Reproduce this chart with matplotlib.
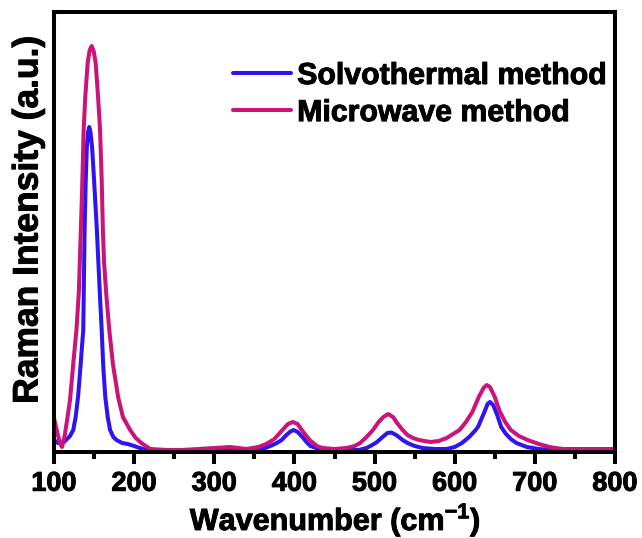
import matplotlib
matplotlib.use("Agg")
import matplotlib.pyplot as plt
from matplotlib.ticker import MultipleLocator
import matplotlib.patheffects as pe

plt.rcParams['font.family'] = ['Liberation Sans', 'DejaVu Sans']
plt.rcParams['font.weight'] = 'bold'
plt.rcParams['mathtext.fontset'] = 'custom'
plt.rcParams['mathtext.rm'] = 'Liberation Sans:bold'
plt.rcParams['mathtext.bf'] = 'Liberation Sans:bold'

# Solvothermal method (blue)
solvo_x = [100, 105, 110, 115, 120, 124, 127, 130, 133, 136.5, 138.2, 139.6, 141, 142.5, 144,
           145.5, 147.5, 150, 153.5, 156.5, 159.5, 161.5, 164, 167, 170, 174, 178, 185, 192,
           200, 207, 215, 240, 280, 320, 350, 360, 370, 378, 384, 390, 395, 399, 404, 410,
           415, 420, 430, 450, 480, 490, 497, 503, 510, 516, 521, 527, 535, 541, 550, 560,
           575, 590, 600, 609, 618, 625, 629, 636, 641, 644, 648, 653, 658, 664, 670, 677,
           690, 705, 720, 760, 800]
solvo_y = [12, 9, 8, 12, 16, 22, 35, 55, 85, 122, 222, 272, 305, 320, 325,
           320, 305, 272, 222, 170, 122, 85, 55, 35, 22, 15, 12, 9, 8,
           6, 4, 2, 2, 2, 2.5, 2.5, 3, 6, 9, 12, 17, 20.5, 22, 20, 15,
           10, 6, 3, 2, 2, 4, 7, 10, 15, 19, 19.5, 17, 12, 9, 6, 4,
           3, 3, 5, 9, 15, 21, 25, 38, 48, 50, 47, 37, 25, 18, 13, 9,
           5, 3, 2, 2, 2]

# Microwave method (magenta)
micro_x = [100, 104, 107, 110, 113, 116, 120, 124, 128, 131, 133, 135, 137, 139, 142, 144.5,
           147, 149.5, 152, 155, 157.5, 159.5, 161, 162.5, 165.5, 169, 173.5, 180, 186, 195,
           202, 209, 220, 240, 260, 280, 300, 320, 340, 355, 365, 375, 385, 392, 398, 404,
           411, 419, 428, 435, 450, 465, 475, 482, 490, 498, 505, 511, 517, 523, 529, 535,
           541, 548, 555, 562, 570, 580, 590, 598, 606, 614, 622, 630, 636, 640, 644, 650,
           656, 663, 670, 680, 691, 705, 718, 735, 760, 780, 800]
micro_y = [34, 20, 10, 5, 15, 30, 52, 88, 122, 160, 210, 260, 322, 355, 389, 402,
           406, 401, 389, 355, 322, 272, 222, 189, 155, 122, 88, 55, 35, 22,
           14, 9, 3, 2, 2, 3, 4, 5, 3, 5, 8, 13, 22, 28, 30, 28,
           20, 12, 6, 4, 3, 4, 6, 9, 15, 22, 30, 35, 38, 35, 28, 22,
           17, 14, 12, 11, 10, 11, 14, 18, 22, 30, 40, 55, 64, 67, 65, 55,
           41, 30, 22, 16, 12, 8, 5, 3, 3, 3, 3]

xticks = [100, 200, 300, 400, 500, 600, 700, 800]

W, H = 642, 538
fig = plt.figure(figsize=(W / 100, H / 100), dpi=100)
ax = fig.add_axes([54 / W, 1 - 452 / H, (615 - 54) / W, (452 - 12) / H])

thick = [pe.withStroke(linewidth=0.7, foreground='black')]

ax.plot(solvo_x, solvo_y, color='#2E14F0', lw=2.9, label='Solvothermal method',
        solid_joinstyle='round', solid_capstyle='round')
ax.plot(micro_x, micro_y, color='#CC137A', lw=2.9, label='Microwave method',
        solid_joinstyle='round', solid_capstyle='round')

ax.set_xlim(100, 800)
ax.set_ylim(0, 440)
ax.set_xticks(xticks)
ax.set_xticklabels([str(t) for t in xticks])
ax.xaxis.set_minor_locator(MultipleLocator(50))
ax.set_yticks([])

for s in ax.spines.values():
    s.set_linewidth(2.9)

ax.tick_params(axis='x', which='major', direction='out', length=8.5, width=2.9,
               labelsize=19.5, pad=5)
ax.tick_params(axis='x', which='minor', direction='out', length=5, width=2.9)
for lbl in ax.get_xticklabels():
    lbl.set_fontweight('bold')
    lbl.set_path_effects(thick)

xl = ax.set_xlabel('Wavenumber (cm$^{\\mathbf{-1}}$)', fontsize=22, fontweight='bold')
xl.set_path_effects(thick)
ax.xaxis.set_label_coords((335 - 54) / (615 - 54), -(520 - 452) / (452 - 12))
xl.set_va('center')

yl = ax.set_ylabel('Raman Intensity (a.u.)', fontsize=25.5, fontweight='bold')
yl.set_path_effects(thick)
ax.yaxis.set_label_coords(-(54 - 28) / (615 - 54), (452 - 220) / (452 - 12))
yl.set_va('center')

leg = fig.legend(loc='upper left', bbox_to_anchor=(233 / W, 1 - 62 / H), frameon=False,
                 prop={'size': 21.8, 'weight': 'bold'}, handlelength=1.9,
                 handletextpad=0.22, labelspacing=0.3, borderpad=0, borderaxespad=0)
for t in leg.get_texts():
    t.set_path_effects(thick)

fig.savefig('out.png', dpi=100)
